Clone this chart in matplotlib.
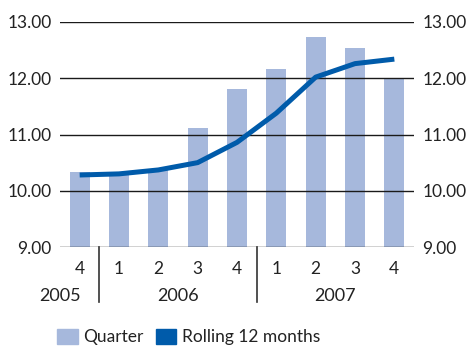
import numpy as np
import matplotlib.pyplot as plt
import matplotlib.transforms as mtransforms
from matplotlib.patches import Patch

plt.rcParams['font.family'] = ['Lato', 'DejaVu Sans']

quarters = ['4', '1', '2', '3', '4', '1', '2', '3', '4']
years = ['2005', '2006', '2007']
year_pos = [-0.5, 2.5, 6.5]
separators = [0.5, 4.5]
quarter_vals = [10.34, 10.31, 10.38, 11.11, 11.81, 12.16, 12.73, 12.53, 12.00]
rolling_vals = [10.28, 10.30, 10.37, 10.50, 10.86, 11.38, 12.02, 12.26, 12.34]
yticks = [9, 10, 11, 12, 13]

bar_color = '#a6b8dc'
line_color = '#005baa'
fs = 12.5

fig = plt.figure(figsize=(4.67, 3.49), dpi=100)
ax = fig.add_axes([60/467, 1 - 247/349, 354/467, 225/349])

x = np.arange(len(quarters))
ax.bar(x, np.array(quarter_vals) - 9, bottom=9, width=0.51, color=bar_color, zorder=1)
ax.plot(x, rolling_vals, color=line_color, lw=3.6, solid_capstyle='butt', zorder=3)

ax.set_xlim(-0.5, 8.5)
ax.set_ylim(9, 13)
ax.set_yticks(yticks)
ax.set_yticklabels([f'{v:.2f}' for v in yticks])
ax.yaxis.grid(True, color='#1a1a1a', lw=1.0, zorder=2)
ax.set_axisbelow(False)
for s in ax.spines.values():
    s.set_visible(False)
ax.tick_params(axis='y', length=0, pad=6, labelsize=12.5, labelcolor='#222222',
               labelright=True, right=False)
ax.set_xticks(x)
ax.set_xticklabels(quarters)
ax.tick_params(axis='x', length=0, pad=10, labelsize=fs, labelcolor='#222222')

trans = mtransforms.blended_transform_factory(ax.transData, ax.transAxes)
for xs in separators:
    ax.plot([xs, xs], [0, -0.245], transform=trans, color='#333333', lw=1.2,
            clip_on=False)
for yr, xp in zip(years, year_pos):
    ax.text(xp, -0.218, yr, transform=trans, ha='center', va='center',
            fontsize=13, color='#222222')

handles = [Patch(color=bar_color, label='Quarter'),
           Patch(color=line_color, label='Rolling 12 months')]
fig.legend(handles=handles, loc='center left', bbox_to_anchor=(57/467, 1 - 337/349),
           ncol=2, frameon=False, fontsize=fs, borderpad=0, borderaxespad=0,
           handlelength=1.2, handleheight=1.0, handletextpad=0.3, columnspacing=0.7,
           labelcolor='#222222')

fig.savefig('out.png', dpi=100)
